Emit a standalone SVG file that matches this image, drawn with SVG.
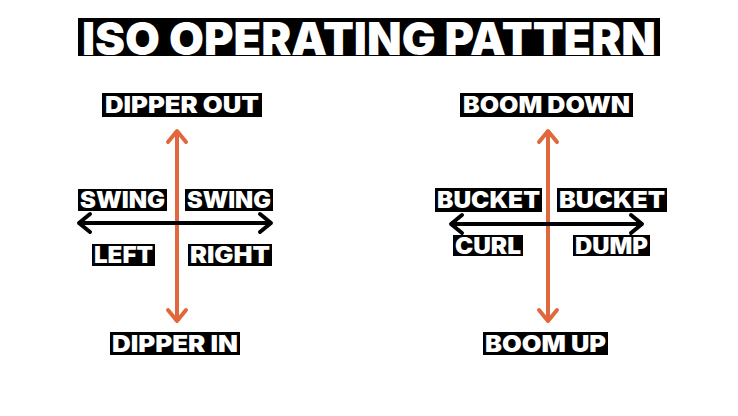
<svg xmlns="http://www.w3.org/2000/svg" width="738" height="416" viewBox="0 0 738 416">
<style>
.box{fill:#000}
.t{fill:#fff;font-family:Inter,"DejaVu Sans",sans-serif;font-weight:900;text-anchor:middle;dominant-baseline:central}
.lbl{font-size:23px}
.title{font-size:46px}
.or{stroke:#E0683C;stroke-width:4;fill:none;stroke-linecap:round;stroke-linejoin:round}
.bk{stroke:#000;stroke-width:4;fill:none;stroke-linecap:round;stroke-linejoin:round}
</style>
<rect width="738" height="416" fill="#fff"/>
<g id="title">
<rect class="box" x="78" y="18" width="582" height="38"/>
<text class="t title" x="369" y="38" textLength="574" lengthAdjust="spacingAndGlyphs">ISO OPERATING PATTERN</text>
</g>
<g id="connectors">
<line class="or" x1="177" y1="132" x2="177" y2="320"/>
<polyline class="or" points="168,142 177,131 186,142"/>
<polyline class="or" points="168,310 177,321 186,310"/>
<line class="bk" x1="80" y1="223" x2="270" y2="223"/>
<polyline class="bk" points="90,214 79,223 90,232"/>
<polyline class="bk" points="260,214 271,223 260,232"/>
<line class="or" x1="548" y1="132" x2="548" y2="320"/>
<polyline class="or" points="539,142 548,131 557,142"/>
<polyline class="or" points="539,310 548,321 557,310"/>
<line class="bk" x1="452" y1="224" x2="641" y2="224"/>
<polyline class="bk" points="462,215 451,224 462,233"/>
<polyline class="bk" points="631,215 642,224 631,233"/>
</g>
<g id="dipper-out"><rect class="box" x="102" y="93" width="160" height="24"/><text class="t lbl" x="182" y="105" textLength="154" lengthAdjust="spacingAndGlyphs">DIPPER OUT</text></g>
<g id="swing-left"><rect class="box" x="78" y="189" width="89" height="22"/><text class="t lbl" x="122.5" y="200" textLength="85" lengthAdjust="spacingAndGlyphs">SWING</text></g>
<g id="swing-right"><rect class="box" x="185" y="189" width="88" height="22"/><text class="t lbl" x="229" y="200" textLength="84" lengthAdjust="spacingAndGlyphs">SWING</text></g>
<g id="left"><rect class="box" x="92" y="244" width="63" height="22"/><text class="t lbl" x="123.5" y="255" textLength="59" lengthAdjust="spacingAndGlyphs">LEFT</text></g>
<g id="right"><rect class="box" x="188" y="244" width="84" height="22"/><text class="t lbl" x="230" y="255" textLength="80" lengthAdjust="spacingAndGlyphs">RIGHT</text></g>
<g id="dipper-in"><rect class="box" x="110" y="332" width="130" height="23"/><text class="t lbl" x="175" y="343.5" textLength="126" lengthAdjust="spacingAndGlyphs">DIPPER IN</text></g>
<g id="boom-down"><rect class="box" x="460" y="93" width="173" height="24"/><text class="t lbl" x="546.5" y="105" textLength="167" lengthAdjust="spacingAndGlyphs">BOOM DOWN</text></g>
<g id="bucket-curl-top"><rect class="box" x="435" y="188" width="107" height="24"/><text class="t lbl" x="488.5" y="200" textLength="103" lengthAdjust="spacingAndGlyphs">BUCKET</text></g>
<g id="bucket-dump-top"><rect class="box" x="557" y="188" width="110" height="24"/><text class="t lbl" x="612" y="200" textLength="106" lengthAdjust="spacingAndGlyphs">BUCKET</text></g>
<g id="curl"><rect class="box" x="453" y="235" width="70" height="21"/><text class="t lbl" x="488" y="245.5" textLength="66" lengthAdjust="spacingAndGlyphs">CURL</text></g>
<g id="dump"><rect class="box" x="573" y="235" width="77" height="21"/><text class="t lbl" x="611.5" y="245.5" textLength="73" lengthAdjust="spacingAndGlyphs">DUMP</text></g>
<g id="boom-up"><rect class="box" x="483" y="332" width="125" height="23"/><text class="t lbl" x="545.5" y="343.5" textLength="121" lengthAdjust="spacingAndGlyphs">BOOM UP</text></g>
</svg>
